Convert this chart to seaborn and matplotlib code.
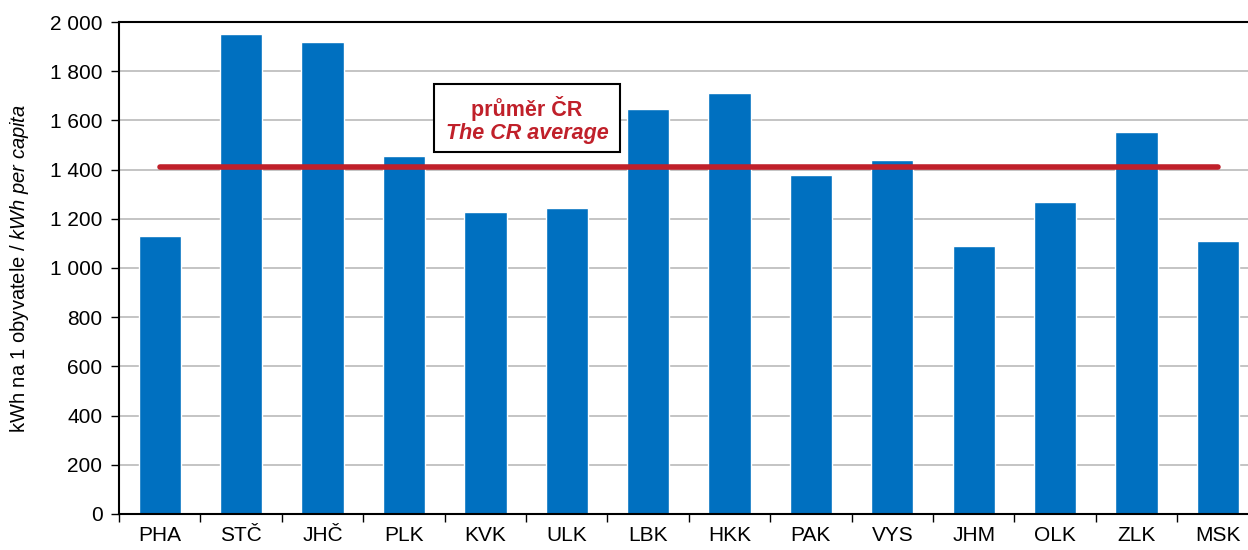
import matplotlib
matplotlib.use("Agg")
import matplotlib.pyplot as plt
import seaborn as sns
import pandas as pd
import numpy as np
from matplotlib.patches import Rectangle

regions = ["PHA", "STČ", "JHČ", "PLK", "KVK", "ULK", "LBK", "HKK", "PAK", "VYS", "JHM", "OLK", "ZLK", "MSK"]
values = [1130, 1951, 1919, 1455, 1228, 1244, 1645, 1710, 1376, 1441, 1088, 1267, 1553, 1110]
cr_average = 1412
yticks = [0, 200, 400, 600, 800, 1000, 1200, 1400, 1600, 1800, 2000]
ytick_labels = ["0", "200", "400", "600", "800", "1 000", "1 200", "1 400", "1 600", "1 800", "2 000"]

sns.set_theme(style="white")
plt.rcParams["font.family"] = ["Liberation Sans", "DejaVu Sans"]
plt.rcParams["mathtext.fontset"] = "custom"
plt.rcParams["mathtext.rm"] = "Liberation Sans"
plt.rcParams["mathtext.it"] = "Liberation Sans:italic"

df = pd.DataFrame({"region": regions, "value": values})

fig = plt.figure(figsize=(12.48, 5.5), dpi=100)
ax = fig.add_axes([0.0954, 0.0655, 0.9131, 0.8945])

sns.barplot(data=df, x="region", y="value", color="#0070C0", width=0.52,
            saturation=1, ax=ax, zorder=2)

ax.set_xlim(-0.5, len(regions) - 0.5)
ax.set_ylim(0, 2000)
ax.set_yticks(yticks)
ax.set_yticklabels(ytick_labels, fontsize=15, color="black")
ax.yaxis.grid(True, color="#BFBFBF", linewidth=1.3, zorder=0)
ax.set_axisbelow(True)

ax.tick_params(axis="x", which="major", length=0, labelsize=15, pad=9, labelcolor="black")
ax.set_xticks(np.arange(len(regions) + 1) - 0.5, minor=True)
ax.tick_params(axis="x", which="minor", length=6, width=1, color="black", direction="out", bottom=True)
ax.tick_params(axis="y", length=6, width=1, color="black", direction="out", left=True, pad=6)

for side in ["left", "bottom", "top"]:
    ax.spines[side].set_visible(True)
    ax.spines[side].set_color("black")
    ax.spines[side].set_linewidth(1.5)
ax.spines["right"].set_visible(False)

ax.set_xlabel("")
ax.set_ylabel(r"kWh na 1 obyvatele / $\mathit{kWh\ per\ capita}$", fontsize=14.5, color="black")
ax.yaxis.set_label_coords(-0.0772, 0.5)

ax.plot([0, len(regions) - 1], [cr_average, cr_average], color="#C0202A",
        linewidth=4, solid_capstyle="round", zorder=3)

ax.text(0.358, 0.825, "průměr ČR", transform=ax.transAxes, ha="center", va="center",
        fontsize=15.5, fontweight="bold", color="#C0202A", zorder=5)
ax.text(0.358, 0.773, "The CR average", transform=ax.transAxes, ha="center", va="center",
        fontsize=15.5, fontweight="bold", fontstyle="italic", color="#C0202A", zorder=5)
ax.add_patch(Rectangle((0.2763, 0.736), 0.1633, 0.138, transform=ax.transAxes,
                       facecolor="white", edgecolor="black", linewidth=1.5, zorder=4))

fig.savefig("out.png", dpi=100)
